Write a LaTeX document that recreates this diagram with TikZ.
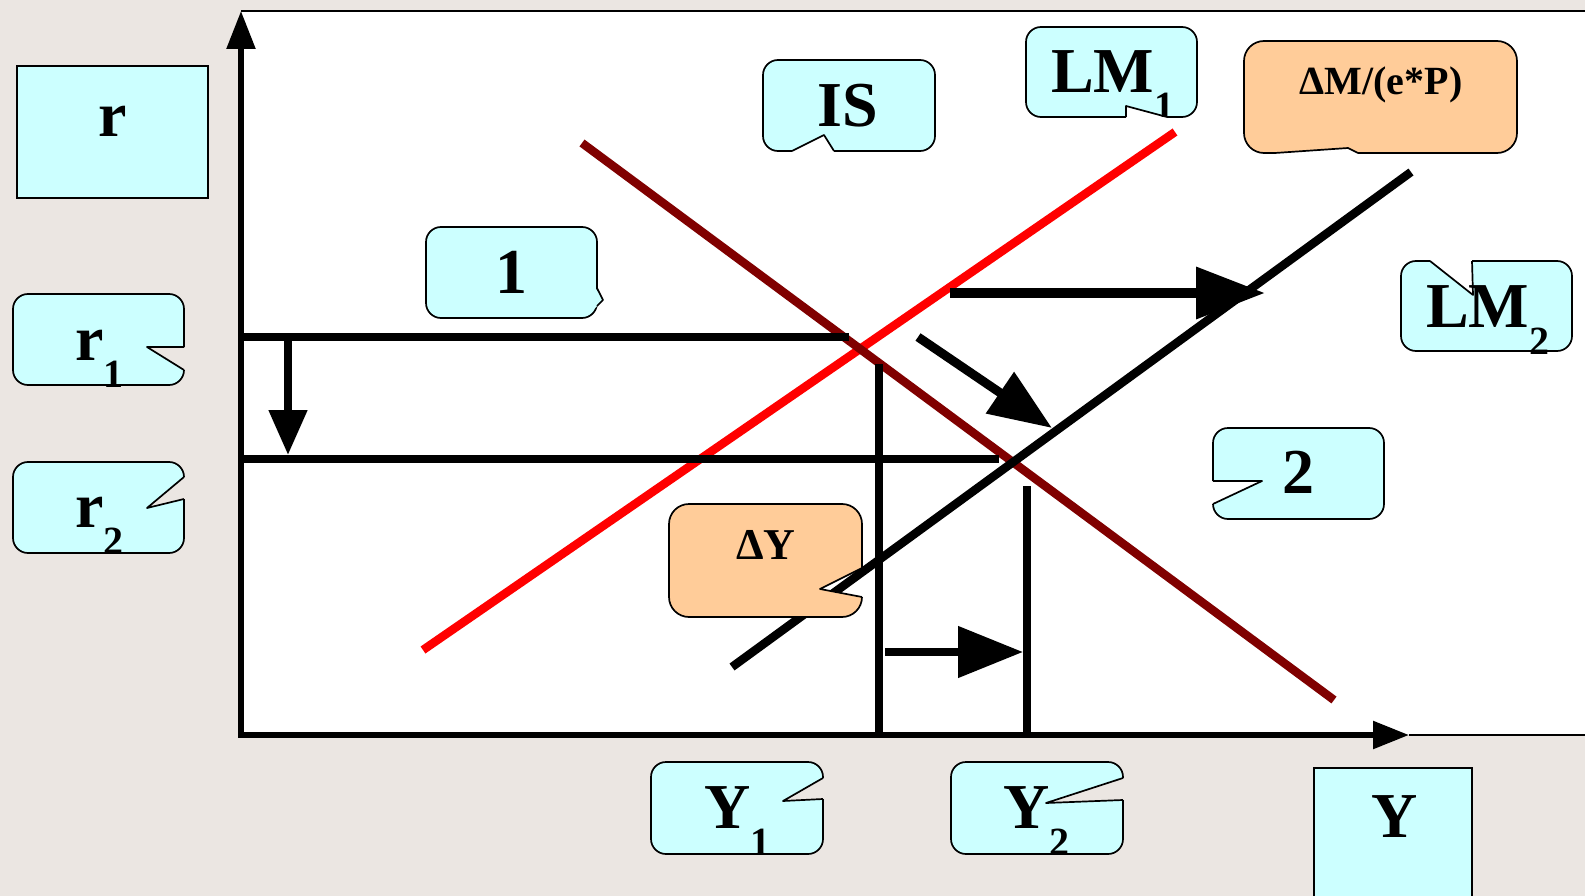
\documentclass[tikz,border=0pt]{standalone}
\usepackage{fontspec}
\setmainfont{Liberation Serif}
\usetikzlibrary{arrows.meta}
\definecolor{paper}{RGB}{235,230,226}
\definecolor{tagcyan}{RGB}{204,255,255}
\definecolor{tagorange}{RGB}{255,204,153}
\definecolor{isred}{RGB}{128,0,0}
\definecolor{lmred}{RGB}{255,0,0}
\tikzstyle{tagline}=[draw=black, line width=1.7pt, line join=round]
\tikzstyle{lbl}=[font=\fontsize{64}{64}\selectfont\bfseries, inner sep=0pt, anchor=base]
\tikzstyle{curve}=[line width=8.5pt]
\tikzstyle{level}=[line width=8.5pt]
\tikzstyle{axis}=[line width=5.5pt, line cap=rect]
\newcommand{\lowsub}[1]{\lower27pt\hbox{\fontsize{40}{40}\selectfont\bfseries #1}}
% callout box: colour, corner radius, box, notch that is cut out of it
\newcommand{\notchbox}[4]{%
  \begin{scope}[even odd rule]
    \clip (-10,-10) rectangle (1600,910) #4;
    \filldraw[tagline, fill=#1, rounded corners=#2] #3;
  \end{scope}}

\begin{document}
\begin{tikzpicture}[x=1pt, y=-1pt]
  \useasboundingbox (0,0) rectangle (1585,896);
  \fill[paper] (0,0) rectangle (1585,896);
  \fill[white] (241,11) rectangle (1585,735);
  \draw[line width=1.7pt] (241,11) -- (1585,11);
  \draw[line width=1.7pt] (1409,735) -- (1585,735);

  %% Axes
  \coordinate (O) at (241,735);
  \coordinate (rtop) at (241,11);
  \coordinate (yend) at (1409,735);
  \draw[axis, -{Triangle[length=38pt, width=28pt]}] (O) -- (rtop);
  \draw[axis, -{Triangle[length=36pt, width=27pt]}] (O) -- (yend);

  %% Curves
  \draw[curve, color=lmred] (423,650) -- (1175,132);
  \draw[curve, color=isred] (582,143) -- (1334,700);
  \draw[curve] (732,667) -- (1411,172);

  %% Levels
  \draw[level] (241,337) -- (849,337);
  \draw[level] (241,459) -- (999,459);
  \draw[level] (879,364) -- (879,735);
  \draw[level] (1027,486) -- (1027,735);

  %% Shifts
  \draw[line width=8pt, -{Triangle[length=45pt, width=37pt]}] (288,337) -- (288,455);
  \draw[line width=8pt, -{Triangle[length=65pt, width=50pt]}] (885,652) -- (1023,652);
  \draw[line width=10pt, -{Triangle[length=69pt, width=50pt]}] (950,293) -- (1265,293);
  \draw[line width=9pt, -{Triangle[length=63pt, width=48pt]}] (918,337) -- (1052,428);

  %% Axis names
  \filldraw[tagline, fill=tagcyan, line join=miter] (17,66) rectangle (208,198);
  \node[lbl] (r) at (113,137) {r};
  \filldraw[tagline, fill=tagcyan, line join=miter] (1314,768) rectangle (1472,905);
  \node[lbl] (Y) at (1395,837) {Y};

  %% Callouts
  \notchbox{tagcyan}{15pt}{(13,294) rectangle (184,385)}{(184,347) -- (147,347) -- (184,370) -- (190,370) -- (190,347) -- cycle}
  \draw[tagline] (184,347) -- (147,347) -- (184,370);
  \node[lbl, anchor=base west] (r1) at (75,360) {r\lowsub{1}};

  \notchbox{tagcyan}{15pt}{(13,462) rectangle (184,553)}{(184,477) -- (147,508) -- (184,499) -- (190,499) -- (190,477) -- cycle}
  \draw[tagline] (184,477) -- (147,508) -- (184,499);
  \node[lbl, anchor=base west] (r2) at (75,527) {r\lowsub{2}};

  \notchbox{tagcyan}{15pt}{(651,762) rectangle (823,854)}{(823,778) -- (783,801) -- (823,799) -- (829,799) -- (829,778) -- cycle}
  \draw[tagline] (823,778) -- (783,801) -- (823,799);
  \node[lbl, anchor=base west] (Y1) at (704,828) {Y\lowsub{1}};

  \notchbox{tagcyan}{15pt}{(951,762) rectangle (1123,854)}{(1123,778) -- (1046,803) -- (1123,800) -- (1129,800) -- (1129,778) -- cycle}
  \draw[tagline] (1123,778) -- (1046,803) -- (1123,800);
  \node[lbl, anchor=base west] (Y2) at (1003,828) {Y\lowsub{2}};

  \notchbox{tagcyan}{15pt}{(763,60) rectangle (935,151)}{(792,151) -- (824,135) -- (834,151) -- (834,157) -- (792,157) -- cycle}
  \draw[tagline] (792,151) -- (824,135) -- (834,151);
  \node[lbl] (IS) at (848,127) {IS};

  \notchbox{tagcyan}{15pt}{(1026,27) rectangle (1197,117)}{(1126,117) -- (1126,106) -- (1167,117) -- (1167,123) -- (1126,123) -- cycle}
  \draw[tagline] (1126,117) -- (1126,106) -- (1167,117);
  \begin{scope}
    \clip (1026,27) rectangle (1197,117);
    \node[lbl, anchor=base west] (LM1) at (1051,93) {LM\lowsub{1}};
  \end{scope}

  \notchbox{tagcyan}{15pt}{(1401,261) rectangle (1572,351)}{(1430,261) -- (1473,295) -- (1472,261) -- (1472,255) -- (1430,255) -- cycle}
  \draw[tagline] (1430,261) -- (1473,295) -- (1472,261);
  \node[lbl, anchor=base west] (LM2) at (1426,327) {LM\lowsub{2}};

  \notchbox{tagcyan}{15pt}{(426,227) rectangle (597,318)}{}
  \fill[tagcyan] (595,287) -- (603,300) -- (595,308) -- cycle;
  \draw[tagline] (597,288) -- (603,300) -- (597,306);
  \node[lbl] (one) at (511,293) {1};

  \notchbox{tagcyan}{15pt}{(1213,428) rectangle (1384,519)}{(1213,481) -- (1262,481) -- (1213,504) -- (1207,504) -- (1207,481) -- cycle}
  \draw[tagline] (1213,481) -- (1262,481) -- (1213,504);
  \node[lbl] (two) at (1298,493) {2};

  \notchbox{tagorange}{20pt}{(1244,41) rectangle (1517,153)}{(1275,153) -- (1348,148) -- (1358,153) -- (1358,159) -- (1275,159) -- cycle}
  \draw[tagline] (1275,153) -- (1348,148) -- (1358,153);
  \node[lbl, font=\fontsize{40}{40}\selectfont\bfseries] (dM) at (1381,95) {ΔM/(e*P)};

  \notchbox{tagorange}{20pt}{(669,504) rectangle (862,617)}{(862,568) -- (820,589) -- (862,597) -- (868,597) -- (868,568) -- cycle}
  \draw[tagline] (862,568) -- (820,589) -- (862,597);
  \node[lbl, font=\fontsize{44}{44}\selectfont\bfseries] (dY) at (766,559) {ΔY};
\end{tikzpicture}
\end{document}
